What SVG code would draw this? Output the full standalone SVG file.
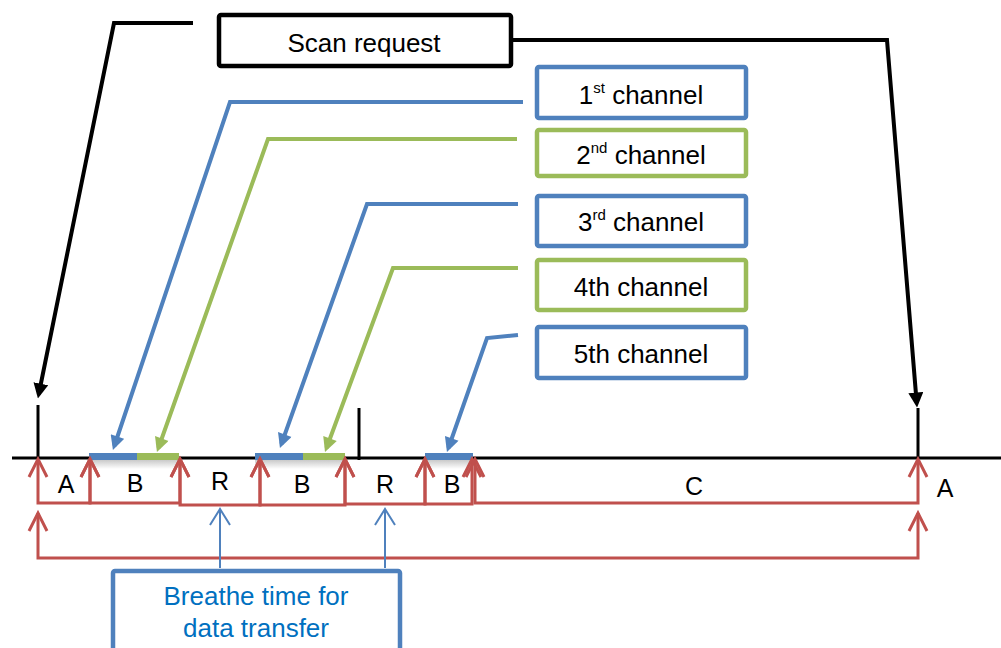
<svg xmlns="http://www.w3.org/2000/svg" width="1001" height="648" viewBox="0 0 1001 648">
<style>
text{font-family:"Liberation Sans",Arial,sans-serif;fill:#000}
.box{fill:#fff;stroke-width:4.5}
.bk{stroke:#000}
.bl{stroke:#4F81BD}
.gr{stroke:#9BBB59}
.lbl{font-size:25px;text-anchor:middle}
.t{font-size:26px;text-anchor:middle}
.cell{fill:none;stroke:#C0504D;stroke-width:3;marker-start:url(#chev);marker-end:url(#chev)}
.conn{fill:none;stroke-width:4}
</style>
<defs>
<marker id="ahK" viewBox="0 0 10 10" refX="7" refY="5" markerWidth="3.75" markerHeight="3.75" orient="auto"><path d="M0,0L10,5L0,10z" fill="#000"/></marker>
<marker id="ahB" viewBox="0 0 10 10" refX="7" refY="5" markerWidth="3.9" markerHeight="3.6" orient="auto"><path d="M0,0L10,5L0,10z" fill="#4F81BD"/></marker>
<marker id="ahG" viewBox="0 0 10 10" refX="7" refY="5" markerWidth="3.9" markerHeight="3.6" orient="auto"><path d="M0,0L10,5L0,10z" fill="#9BBB59"/></marker>
<marker id="chev" viewBox="-20 -12 22 24" refX="0" refY="0" markerWidth="22" markerHeight="24" markerUnits="userSpaceOnUse" orient="auto-start-reverse" overflow="visible"><path d="M-18,-9L0,0L-18,9" fill="none" stroke="#C0504D" stroke-width="3"/></marker>
<marker id="chevB" viewBox="-20 -12 22 24" refX="0" refY="0" markerWidth="22" markerHeight="24" markerUnits="userSpaceOnUse" orient="auto" overflow="visible"><path d="M-16,-10L0,0L-16,10" fill="none" stroke="#4F81BD" stroke-width="2"/></marker>
<linearGradient id="sh" x1="0" y1="0" x2="0" y2="1"><stop offset="0" stop-color="#888" stop-opacity="0.45"/><stop offset="1" stop-color="#888" stop-opacity="0"/></linearGradient>
</defs>

<g id="timeline">
<line x1="12" y1="458" x2="1001" y2="458" stroke="#000" stroke-width="3"/>
<line x1="38" y1="405" x2="38" y2="458" stroke="#000" stroke-width="3"/>
<line x1="359" y1="408" x2="359" y2="460" stroke="#000" stroke-width="3"/>
<line x1="918" y1="408" x2="918" y2="458" stroke="#000" stroke-width="3"/>
</g>

<g id="bars">
<rect x="89" y="460" width="90" height="9" fill="url(#sh)"/>
<rect x="255" y="460" width="90" height="9" fill="url(#sh)"/>
<rect x="425" y="460" width="48" height="9" fill="url(#sh)"/>
<rect x="89" y="453" width="48" height="7" fill="#4F81BD"/>
<rect x="137" y="453" width="42" height="7" fill="#9BBB59"/>
<rect x="255" y="453" width="48" height="7" fill="#4F81BD"/>
<rect x="303" y="453" width="42" height="7" fill="#9BBB59"/>
<rect x="425" y="453" width="48" height="7" fill="#4F81BD"/>
</g>

<g id="cells">
<path class="cell" d="M38,459V503H90V459"/>
<path class="cell" d="M90,459V503H180V459"/>
<path class="cell" d="M180,459V505H260V459"/>
<path class="cell" d="M260,459V505H345V459"/>
<path class="cell" d="M345,459V504H425V459"/>
<path class="cell" d="M425,459V504H472V459"/>
<path class="cell" d="M475,459V503H918V459"/>
<path class="cell" d="M38,513V558H918V513"/>
<text class="lbl" x="66" y="493">A</text>
<text class="lbl" x="135" y="492">B</text>
<text class="lbl" x="220" y="490">R</text>
<text class="lbl" x="302" y="493">B</text>
<text class="lbl" x="385" y="493">R</text>
<text class="lbl" x="452" y="493">B</text>
<text class="lbl" x="694" y="495">C</text>
<text class="lbl" x="945" y="497">A</text>
</g>

<g id="connectors">
<path class="conn bk" d="M193,23H114L38.8,394" marker-end="url(#ahK)"/>
<path class="conn bk" d="M513,40H887L916.7,403" marker-end="url(#ahK)"/>
<path class="conn bl" d="M523,102H230L114.3,446" marker-end="url(#ahB)"/>
<path class="conn gr" d="M517,139H268L158.4,448" marker-end="url(#ahG)"/>
<path class="conn bl" d="M518,204H367L281.4,444" marker-end="url(#ahB)"/>
<path class="conn gr" d="M518,268H393L326.5,448" marker-end="url(#ahG)"/>
<path class="conn bl" d="M518,335L487,338L448.4,448" marker-end="url(#ahB)"/>
<path d="M220,568V509" fill="none" stroke="#4F81BD" stroke-width="2" marker-end="url(#chevB)"/>
<path d="M385,568V509" fill="none" stroke="#4F81BD" stroke-width="2" marker-end="url(#chevB)"/>
</g>

<g id="scan-request">
<rect class="box bk" x="219" y="15" width="292" height="51" rx="2"/>
<text class="t" x="364" y="52">Scan request</text>
</g>

<g id="ch1">
<rect class="box bl" x="537" y="67" width="209" height="51" rx="2"/>
<text class="t" x="641" y="104">1<tspan font-size="15" dy="-11">st</tspan><tspan dy="11"> channel</tspan></text>
</g>
<g id="ch2">
<rect class="box gr" x="537" y="130" width="209" height="46" rx="2"/>
<text class="t" x="641" y="164">2<tspan font-size="15" dy="-11">nd</tspan><tspan dy="11"> channel</tspan></text>
</g>
<g id="ch3">
<rect class="box bl" x="537" y="196" width="209" height="50" rx="2"/>
<text class="t" x="641" y="231">3<tspan font-size="15" dy="-11">rd</tspan><tspan dy="11"> channel</tspan></text>
</g>
<g id="ch4">
<rect class="box gr" x="537" y="260" width="209" height="50" rx="2"/>
<text class="t" x="641" y="296">4th channel</text>
</g>
<g id="ch5">
<rect class="box bl" x="537" y="327" width="209" height="51" rx="2"/>
<text class="t" x="641" y="363">5th channel</text>
</g>

<g id="breathe">
<rect class="box bl" x="113" y="571" width="287" height="100" rx="2"/>
<text class="t" x="256" y="605" style="fill:#0070C0">Breathe time for</text>
<text class="t" x="256" y="637" style="fill:#0070C0">data transfer</text>
</g>
</svg>
